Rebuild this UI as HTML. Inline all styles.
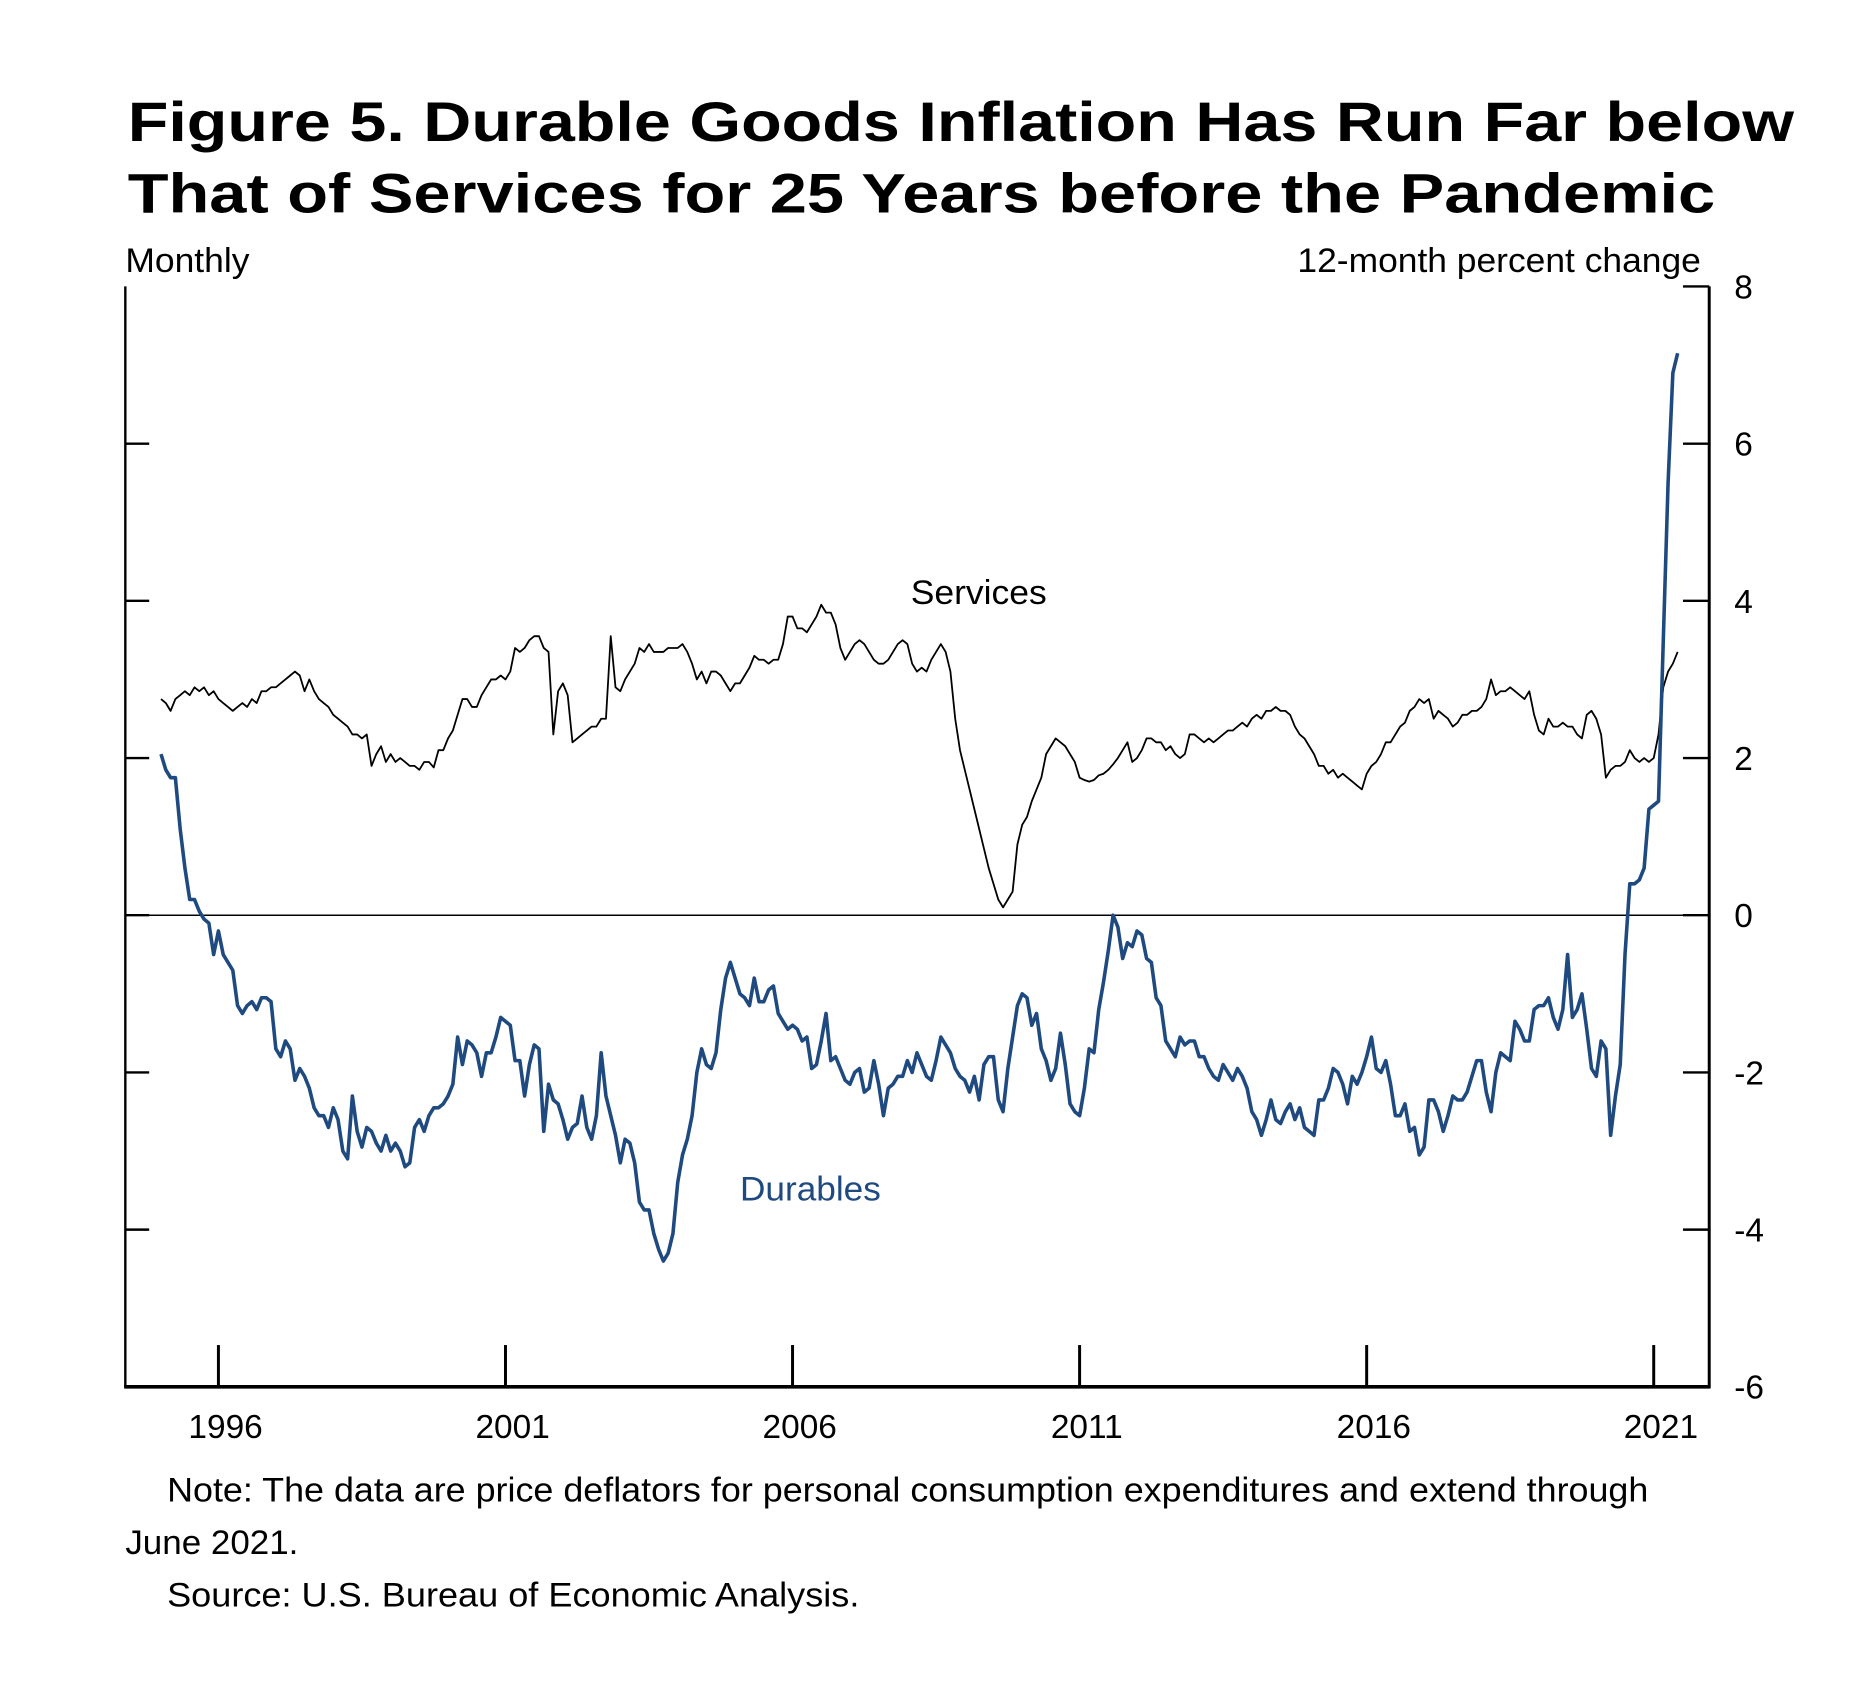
<!DOCTYPE html>
<html><head><meta charset="utf-8"><style>
html,body{margin:0;padding:0;background:#fff;}
svg{display:block;font-family:"Liberation Sans",Arial,sans-serif;}
</style></head><body>
<svg width="1862" height="1684" viewBox="0 0 1560 1411" preserveAspectRatio="none" xmlns="http://www.w3.org/2000/svg">
<text x="107" y="118" font-size="47" font-weight="bold" textLength="1396" lengthAdjust="spacingAndGlyphs">Figure 5. Durable Goods Inflation Has Run Far below</text>
<text x="107" y="178" font-size="47" font-weight="bold" textLength="1330" lengthAdjust="spacingAndGlyphs">That of Services for 25 Years before the Pandemic</text>
<text x="105" y="228" font-size="29" textLength="104" lengthAdjust="spacingAndGlyphs">Monthly</text>
<text x="1087" y="228" font-size="29" textLength="338" lengthAdjust="spacingAndGlyphs">12-month percent change</text>
<g id="plot"></g>
<text x="763" y="506" font-size="29" textLength="114" lengthAdjust="spacingAndGlyphs">Services</text>
<text x="620" y="1006" font-size="29" fill="#1f4a80" textLength="118" lengthAdjust="spacingAndGlyphs">Durables</text>
<text x="140" y="1258" font-size="29" textLength="1241" lengthAdjust="spacingAndGlyphs">Note:  The data are price deflators for personal consumption expenditures and extend through</text>
<text x="105" y="1302" font-size="29" textLength="145" lengthAdjust="spacingAndGlyphs">June 2021.</text>
<text x="140" y="1346" font-size="29" textLength="580" lengthAdjust="spacingAndGlyphs">Source:  U.S. Bureau of Economic Analysis.</text>
</svg>
<script>
const startYear = 1995;
const yTicks = [8, 6, 4, 2, 0, -2, -4, -6];
const xTickYears = [1996, 2001, 2006, 2011, 2016, 2021];
const services = [
2.75,2.7,2.6,2.75,2.8,2.85,2.8,2.9,2.85,2.9,2.8,2.85,
2.75,2.7,2.65,2.6,2.65,2.7,2.65,2.75,2.7,2.85,2.85,2.9,
2.9,2.95,3.0,3.05,3.1,3.05,2.85,3.0,2.85,2.75,2.7,2.65,
2.55,2.5,2.45,2.4,2.3,2.3,2.25,2.3,1.9,2.05,2.15,1.95,
2.05,1.95,2.0,1.95,1.9,1.9,1.85,1.95,1.95,1.88,2.1,2.1,
2.25,2.35,2.55,2.75,2.75,2.65,2.65,2.8,2.9,3.0,3.0,3.05,
3.0,3.1,3.4,3.35,3.4,3.5,3.55,3.55,3.4,3.35,2.3,2.85,
2.95,2.8,2.2,2.25,2.3,2.35,2.4,2.4,2.5,2.5,3.55,2.9,
2.85,3.0,3.1,3.2,3.4,3.35,3.45,3.35,3.35,3.35,3.4,3.4,
3.4,3.45,3.35,3.2,3.0,3.1,2.95,3.1,3.1,3.05,2.95,2.85,
2.95,2.95,3.05,3.15,3.3,3.25,3.25,3.2,3.25,3.25,3.45,3.8,
3.8,3.65,3.65,3.6,3.7,3.8,3.95,3.85,3.85,3.7,3.4,3.25,
3.35,3.45,3.5,3.45,3.35,3.25,3.2,3.2,3.25,3.35,3.45,3.5,
3.45,3.2,3.1,3.15,3.1,3.25,3.35,3.45,3.35,3.1,2.5,2.1,
1.85,1.6,1.35,1.1,0.85,0.6,0.4,0.2,0.1,0.2,0.3,0.9,
1.15,1.25,1.45,1.6,1.75,2.05,2.15,2.25,2.2,2.15,2.05,1.95,
1.75,1.72,1.7,1.72,1.78,1.8,1.85,1.92,2.0,2.1,2.2,1.95,
2.0,2.1,2.25,2.25,2.2,2.2,2.1,2.15,2.05,2.0,2.05,2.3,
2.3,2.25,2.2,2.25,2.2,2.25,2.3,2.35,2.35,2.4,2.45,2.4,
2.5,2.55,2.5,2.6,2.6,2.65,2.6,2.6,2.55,2.4,2.3,2.25,
2.15,2.05,1.9,1.9,1.8,1.85,1.75,1.8,1.75,1.7,1.65,1.6,
1.8,1.9,1.95,2.05,2.2,2.2,2.3,2.4,2.45,2.6,2.65,2.75,
2.7,2.75,2.5,2.6,2.55,2.5,2.4,2.45,2.55,2.55,2.6,2.6,
2.65,2.75,3.0,2.8,2.85,2.85,2.9,2.85,2.8,2.75,2.85,2.55,
2.35,2.3,2.5,2.4,2.4,2.45,2.4,2.4,2.3,2.25,2.55,2.6,
2.5,2.3,1.75,1.85,1.9,1.9,1.95,2.1,2.0,1.95,2.0,1.95,
2.0,2.3,2.9,3.1,3.2,3.35];
const durables = [
2.05,1.85,1.75,1.75,1.1,0.6,0.2,0.2,0.05,-0.05,-0.1,-0.5,
-0.2,-0.5,-0.6,-0.7,-1.15,-1.25,-1.15,-1.1,-1.2,-1.05,-1.05,-1.1,
-1.7,-1.8,-1.6,-1.7,-2.1,-1.95,-2.05,-2.2,-2.45,-2.55,-2.55,-2.7,
-2.45,-2.6,-3.0,-3.1,-2.3,-2.75,-2.95,-2.7,-2.75,-2.9,-3.0,-2.8,
-3.0,-2.9,-3.0,-3.2,-3.15,-2.7,-2.6,-2.75,-2.55,-2.45,-2.45,-2.4,
-2.3,-2.15,-1.55,-1.9,-1.6,-1.65,-1.75,-2.05,-1.75,-1.75,-1.55,-1.3,
-1.35,-1.4,-1.85,-1.85,-2.3,-1.9,-1.65,-1.7,-2.75,-2.15,-2.35,-2.4,
-2.6,-2.85,-2.7,-2.65,-2.3,-2.7,-2.85,-2.55,-1.75,-2.3,-2.55,-2.8,
-3.15,-2.85,-2.9,-3.15,-3.65,-3.75,-3.75,-4.05,-4.25,-4.4,-4.3,-4.05,
-3.4,-3.05,-2.85,-2.55,-2.0,-1.7,-1.9,-1.95,-1.75,-1.2,-0.8,-0.6,
-0.8,-1.0,-1.05,-1.15,-0.8,-1.1,-1.1,-0.95,-0.9,-1.25,-1.35,-1.45,
-1.4,-1.45,-1.6,-1.55,-1.95,-1.9,-1.6,-1.25,-1.85,-1.8,-1.95,-2.1,
-2.15,-2.0,-1.95,-2.25,-2.2,-1.85,-2.15,-2.55,-2.2,-2.15,-2.05,-2.05,
-1.85,-2.0,-1.75,-1.9,-2.05,-2.1,-1.85,-1.55,-1.65,-1.75,-1.95,-2.05,
-2.1,-2.25,-2.05,-2.35,-1.9,-1.8,-1.8,-2.35,-2.5,-1.95,-1.55,-1.15,
-1.0,-1.05,-1.4,-1.25,-1.7,-1.85,-2.1,-1.95,-1.5,-1.9,-2.4,-2.5,
-2.55,-2.2,-1.7,-1.75,-1.2,-0.85,-0.45,0.0,-0.15,-0.55,-0.35,-0.4,
-0.2,-0.25,-0.55,-0.6,-1.05,-1.15,-1.6,-1.7,-1.8,-1.55,-1.65,-1.6,
-1.6,-1.8,-1.8,-1.95,-2.05,-2.1,-1.9,-2.0,-2.1,-1.95,-2.05,-2.2,
-2.5,-2.6,-2.8,-2.6,-2.35,-2.6,-2.65,-2.5,-2.4,-2.6,-2.45,-2.7,
-2.75,-2.8,-2.35,-2.35,-2.2,-1.95,-2.0,-2.15,-2.4,-2.05,-2.15,-2.0,
-1.8,-1.55,-1.95,-2.0,-1.85,-2.15,-2.55,-2.55,-2.4,-2.75,-2.7,-3.05,
-2.95,-2.35,-2.35,-2.5,-2.75,-2.55,-2.3,-2.35,-2.35,-2.25,-2.05,-1.85,
-1.85,-2.25,-2.5,-2.0,-1.75,-1.8,-1.85,-1.35,-1.45,-1.6,-1.6,-1.2,
-1.15,-1.15,-1.05,-1.3,-1.45,-1.2,-0.5,-1.3,-1.2,-1.0,-1.45,-1.95,
-2.05,-1.6,-1.7,-2.8,-2.3,-1.9,-0.5,0.4,0.4,0.45,0.6,1.35,
1.4,1.45,3.5,5.5,6.9,7.15];

const NS = 'http://www.w3.org/2000/svg';
const L = 105, R = 1432, T = 240, B = 1162;
const yMin = -6, yMax = 8;
const x0 = 183, pxPerYear = 48.1;
function xScale(monthIndex){ return x0 + ((startYear + monthIndex/12) - 1996) * pxPerYear; }
function xYear(y){ return x0 + (y - 1996) * pxPerYear; }
function yScale(v){ return B - (v - yMin) / (yMax - yMin) * (B - T); }
const g = document.getElementById('plot');
function mk(tag, attrs){ const e = document.createElementNS(NS, tag); for (const k in attrs) e.setAttribute(k, attrs[k]); g.appendChild(e); return e; }

let z = mk('line', {x1: L, x2: R, y1: yScale(0), y2: yScale(0), stroke: '#000', 'stroke-width': 1.3});



let la = mk('line', {x1: L, x2: L, y1: T, y2: B, stroke: '#000', 'stroke-width': 2});


let ra = mk('line', {x1: R, x2: R, y1: T, y2: B + 1, stroke: '#000', 'stroke-width': 2.5});


let ba = mk('line', {x1: L - 1, x2: R + 1, y1: B, y2: B, stroke: '#000', 'stroke-width': 3});



yTicks.forEach(v => {
  const y = yScale(v);
  let t1 = mk('line', {x1: R - 22, x2: R, y1: y, y2: y, stroke: '#000', 'stroke-width': 2});
  
  
  if (v !== 8 && v !== -6) {
    let t2 = mk('line', {x1: L, x2: L + 20, y1: y, y2: y, stroke: '#000', 'stroke-width': 2});
    
    
  }
  let lb = mk('text', {x: 1453, y: y + 10, 'font-size': 28});
  lb.textContent = String(v);
  
  
});

xTickYears.forEach(yr => {
  const x = xYear(yr);
  let t = mk('line', {x1: x, x2: x, y1: B - 35, y2: B, stroke: '#000', 'stroke-width': 2.5});
  
  
  let lb = mk('text', {x: x + 6, y: 1205, 'font-size': 28, 'text-anchor': 'middle'});
  lb.textContent = String(yr);
  
  
});

function pathFor(arr){ return arr.map((v,i)=> (i?'L':'M') + xScale(i).toFixed(2) + ' ' + yScale(v).toFixed(2)).join(' '); }
let sp = mk('path', {d: pathFor(services), fill: 'none', stroke: '#000', 'stroke-width': 1.5, 'stroke-linejoin': 'round'});


let dp = mk('path', {d: pathFor(durables), fill: 'none', stroke: '#1f4a80', 'stroke-width': 3, 'stroke-linejoin': 'round'});


</script>
</body></html>
